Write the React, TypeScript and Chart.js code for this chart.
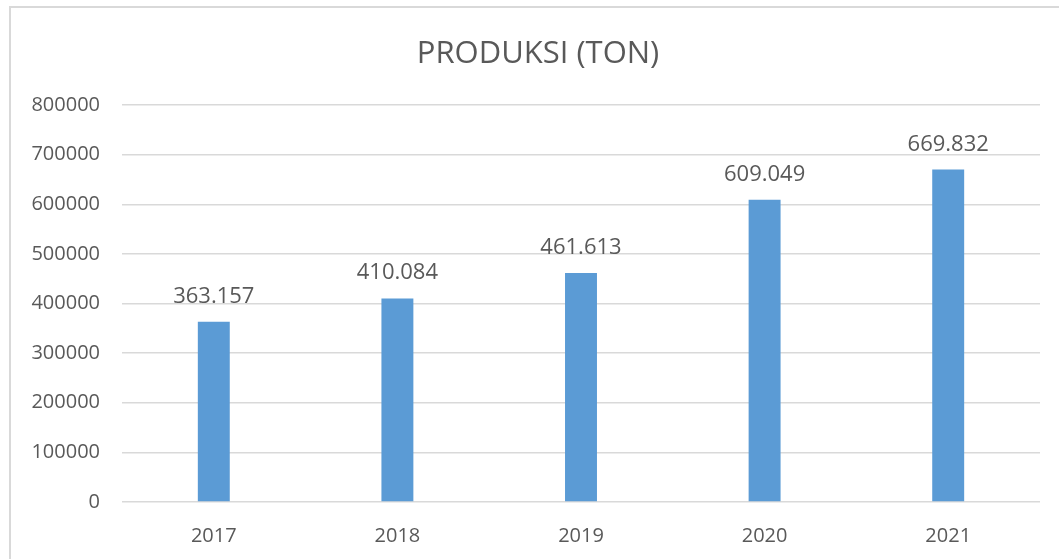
import React, { useEffect, useRef } from "react";
import { Chart, registerables } from "chart.js";

Chart.register(...registerables);

const categories = ["2017", "2018", "2019", "2020", "2021"];
const produksi = [363157, 410084, 461613, 609049, 669832];
const dataLabels = ["363.157", "410.084", "461.613", "609.049", "669.832"];
const titleText = "PRODUKSI (TON)";
const yMin = 0;
const yMax = 800000;
const yStep = 100000;

const FONT = "'Open Sans', 'Liberation Sans', sans-serif";
const TEXT = "#595959";

export default function App() {
  const ref = useRef<HTMLCanvasElement | null>(null);

  useEffect(() => {
    if (!ref.current) return;
    const overlay = {
      id: "overlay",
      afterDatasetsDraw(chart: any) {
        const ctx = chart.ctx;
        ctx.save();
        ctx.fillStyle = TEXT;
        ctx.font = `22px ${FONT}`;
        ctx.textAlign = "center";
        ctx.textBaseline = "alphabetic";
        const meta = chart.getDatasetMeta(0);
        meta.data.forEach((bar: any, i: number) => {
          ctx.fillText(dataLabels[i], bar.x, bar.y - 19);
        });
        ctx.font = `31px ${FONT}`;
        ctx.fillText(titleText, 538, 63);
        ctx.restore();
      },
    };
    const chart = new Chart(ref.current, {
      type: "bar",
      data: {
        labels: categories,
        datasets: [
          {
            label: "Produksi",
            data: produksi,
            backgroundColor: "#5B9BD5",
            borderWidth: 0,
            barPercentage: 0.174,
            categoryPercentage: 1,
          },
        ],
      },
      options: {
        responsive: false,
        animation: false,
        devicePixelRatio: 1,
        layout: { padding: { top: 105, left: 0, right: 19, bottom: 0 } },
        plugins: {
          legend: { display: false },
          title: { display: false },
          tooltip: { enabled: false },
        },
        scales: {
          x: {
            grid: { display: false, drawTicks: false },
            border: { display: false },
            ticks: { color: TEXT, font: { family: FONT, size: 20 }, padding: 22 },
            afterFit(scale: any) {
              scale.height = 57;
            },
          },
          y: {
            min: yMin,
            max: yMax,
            grid: { color: "#d9d9d9", lineWidth: 1.5, drawTicks: false },
            border: { display: false },
            ticks: {
              stepSize: yStep,
              color: TEXT,
              font: { family: FONT, size: 20 },
              padding: 22,
              callback: (v: any) => String(v),
            },
            afterFit(scale: any) {
              scale.width = 122;
            },
          },
        },
      },
      plugins: [overlay],
    });
    return () => chart.destroy();
  }, []);

  return (
    <div
      style={{
        position: "absolute",
        left: 0,
        top: 0,
        width: 1059,
        height: 559,
        overflow: "hidden",
        background: "#fff",
      }}
    >
      <div
        style={{
          position: "absolute",
          left: 9,
          top: 6,
          width: 1200,
          height: 700,
          borderTop: "2px solid #d9d9d9",
          borderLeft: "2px solid #d9d9d9",
        }}
      />
      <canvas
        ref={ref}
        width={1059}
        height={559}
        style={{ position: "absolute", left: 0, top: 0, width: 1059, height: 559 }}
      />
    </div>
  );
}
